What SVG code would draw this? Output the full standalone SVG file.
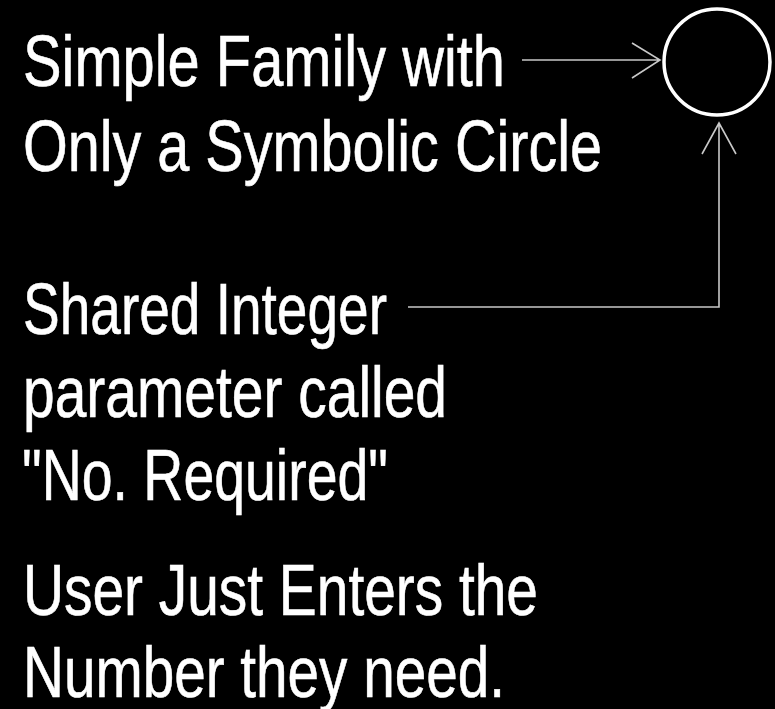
<svg xmlns="http://www.w3.org/2000/svg" width="775" height="709" viewBox="0 0 775 709">
<style>
.t{font-family:"Liberation Sans","Arial",sans-serif;font-size:72px;fill:#ffffff;stroke:#ffffff;stroke-width:0.6;}
.c{fill:none;stroke:#c8c8c8;stroke-width:1.6;}
</style>
<rect width="775" height="709" fill="#000000"/>
<g id="circle-node"><circle cx="717" cy="62" r="53" fill="none" stroke="#ffffff" stroke-width="3.5"/></g>
<g id="label-family">
<text class="t" x="23" y="86" textLength="482" lengthAdjust="spacingAndGlyphs">Simple Family with</text>
<text class="t" x="23" y="171" textLength="579" lengthAdjust="spacingAndGlyphs">Only a Symbolic Circle</text>
</g>
<g id="label-param">
<text class="t" x="23" y="334" textLength="364" lengthAdjust="spacingAndGlyphs">Shared Integer</text>
<text class="t" x="23" y="417" textLength="424" lengthAdjust="spacingAndGlyphs">parameter called</text>
<text class="t" x="22" y="500" textLength="366" lengthAdjust="spacingAndGlyphs">"No. Required"</text>
</g>
<g id="label-user">
<text class="t" x="23" y="615" textLength="515" lengthAdjust="spacingAndGlyphs">User Just Enters the</text>
<text class="t" x="23" y="697" textLength="482" lengthAdjust="spacingAndGlyphs">Number they need.</text>
</g>
<g id="connectors">
<path class="c" d="M522 60 H660 M632 43 L660 60 L632 78"/>
<path class="c" d="M408 307 H719 V123 M702 154 L719 123 L736 154"/>
</g>
</svg>
